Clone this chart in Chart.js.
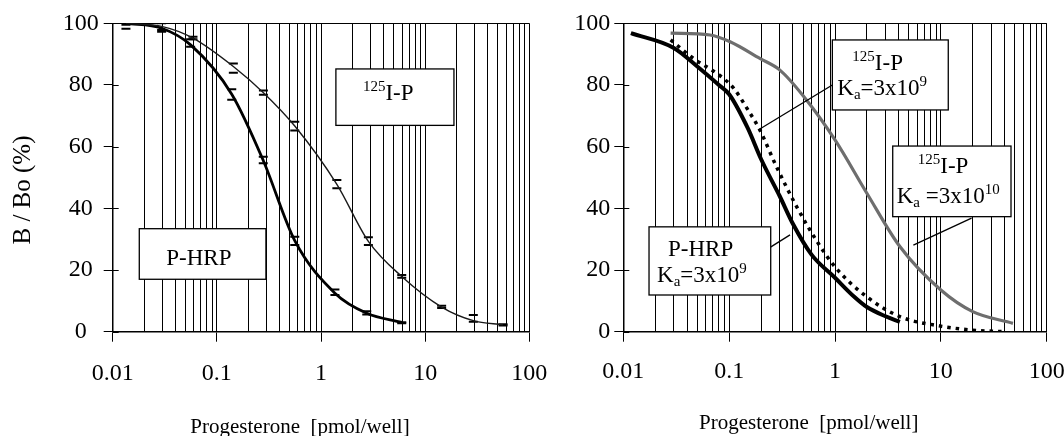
<!DOCTYPE html>
<html>
<head>
<meta charset="utf-8">
<script src="https://cdn.jsdelivr.net/npm/chart.js@4.4.0/dist/chart.umd.min.js"></script>
<style>
  html, body { margin: 0; padding: 0; background: #fff; }
  #wrap { position: relative; width: 1064px; height: 436px; overflow: hidden; background: #fff; }
  .panel { position: absolute; top: 0; }
</style>
</head>
<body>
<div id="wrap">
  <canvas id="leftChart" class="panel" width="570" height="436" style="left:0"></canvas>
  <canvas id="rightChart" class="panel" width="550" height="436" style="left:540px"></canvas>
</div>
<script>
// Left panel: measured points (dose in pmol/well, B/Bo in %)
const hrpDose = [0.0134, 0.0295, 0.056, 0.139, 0.279, 0.56, 1.36, 2.75, 5.96];
const hrpBB   = [100, 98.4, 93, 77, 55.5, 29.5, 12.5, 6, 3];
const hrpHigh = [100.3, 100, 94.8, 78.6, 56.7, 30.8, 13.7, 6.6, 3.1];
const hrpLow  = [98.2, 97.8, 92.4, 75.2, 54.6, 28.1, 11.9, 5.6, 2.7];

const iodDose = [0.0134, 0.0295, 0.059, 0.144, 0.28, 0.56, 1.42, 2.85, 5.96, 14.4, 29, 56];
const iodBB   = [100, 99, 95.2, 86, 77.5, 66.7, 47.8, 29.3, 17.9, 8, 3.6, 2.2];
const iodHigh = [100.3, 100.3, 95.6, 87, 78.2, 68.1, 49.2, 30.6, 18.4, 8.4, 5.4, 2.4];
const iodLow  = [99.5, 97.3, 94.8, 84, 76.8, 65.2, 46.5, 28.1, 17.5, 7.7, 3.2, 2.0];

// Right panel: simulated curves
const simHrpDose = [0.0118, 0.03, 0.05, 0.08, 0.1, 0.15, 0.2, 0.3, 0.4, 0.6, 1.0, 1.5, 2.0, 3.0, 4.1];
const simHrpBB   = [96.8, 92, 86, 80, 77, 66, 56, 44, 35, 25, 17.5, 11.5, 8, 5, 3.2];

const simIod9Dose = [0.028, 0.046, 0.082, 0.11, 0.15, 0.195, 0.28, 0.435, 0.67, 1.0, 2.0, 4.1, 10, 20, 40];
const simIod9BB   = [94.6, 88.6, 83, 79, 72, 65.4, 53.5, 40.5, 29.5, 21, 11.3, 4.9, 1.8, 0.5, 0];

const simIod10Dose = [0.028, 0.066, 0.102, 0.195, 0.3, 0.5, 1.0, 2.0, 4.1, 10, 20, 48];
const simIod10BB   = [96.8, 96.2, 94, 88.6, 84.9, 76.5, 62.2, 44.9, 27.6, 13.5, 6.5, 2.7];

// Axes
const xDecades = [0.01, 0.1, 1, 10, 100];
const xMultiples = [1, 2, 3, 4, 5, 6, 7, 8, 9];
const yTicks = [0, 20, 40, 60, 80, 100];

const SERIF = "'Liberation Serif', 'Times New Roman', serif";
const xGrid = [];
xDecades.slice(0, -1).forEach((d) => xMultiples.forEach((m) => xGrid.push(+(d * m).toPrecision(3))));
xGrid.push(xDecades[xDecades.length - 1]);

const isDecade = (v) => xDecades.some((d) => Math.abs(d - v) < d * 1e-6);
const toPoints = (xs, ys) => xs.map((x, i) => ({ x, y: ys[i] }));

// Text boxes and leader lines, anchored in data units
const leftNotes = {
  boxes: [
    { x0: 1.39, x1: 18.9, y0: 85.2, y1: 66.9,
      lines: [{ dx: 27, dy: 31, segs: [{ t: "125", sup: true }, { t: "I-P" }] }] },
    { x0: 0.018, x1: 0.296, y0: 33.4, y1: 17.0,
      lines: [{ dx: 27, dy: 36, segs: [{ t: "P-HRP" }] }] },
  ],
  leaders: [],
};
const rightNotes = {
  boxes: [
    { x0: 0.944, x1: 11.75, y0: 94.6, y1: 71.9,
      lines: [
        { dx: 20, dy: 30, segs: [{ t: "125", sup: true }, { t: "I-P" }] },
        { dx: 5, dy: 55, segs: [{ t: "K" }, { t: "a", sub: true }, { t: "=3x10" }, { t: "9", sup: true }] },
      ] },
    { x0: 3.51, x1: 46.0, y0: 60.2, y1: 37.3,
      lines: [
        { dx: 25, dy: 27, segs: [{ t: "125", sup: true }, { t: "I-P" }] },
        { dx: 4, dy: 57, segs: [{ t: "K" }, { t: "a", sub: true }, { t: " =3x10" }, { t: "10", sup: true }] },
      ] },
    { x0: 0.0175, x1: 0.247, y0: 34.0, y1: 11.9,
      lines: [
        { dx: 19, dy: 29, segs: [{ t: "P-HRP" }] },
        { dx: 8, dy: 55, segs: [{ t: "K" }, { t: "a", sub: true }, { t: "=3x10" }, { t: "9", sup: true }] },
      ] },
  ],
  leaders: [
    { from: [0.944, 80.0], to: [0.188, 65.4] },
    { from: [19.5, 36.8], to: [5.5, 28.1] },
    { from: [0.188, 24.9], to: [0.376, 31.4] },
  ],
};

const drawRich = (ctx, segs, x, y) => {
  let cx = x;
  for (const s of segs) {
    const small = s.sup || s.sub;
    ctx.font = `${small ? 15 : 23}px ${SERIF}`;
    const dy = s.sup ? -9 : s.sub ? 4 : 0;
    ctx.fillText(s.t, cx, y + dy);
    cx += ctx.measureText(s.t).width;
  }
};

const notesPlugin = (notes) => ({
  id: "notes",
  afterDatasetsDraw(chart) {
    const { ctx, chartArea, scales: { x, y } } = chart;
    ctx.save();
    // inner half of the y tick marks
    ctx.strokeStyle = "#000";
    ctx.lineWidth = 1;
    yTicks.forEach((v) => {
      const py = Math.round(y.getPixelForValue(v)) + 0.5;
      ctx.beginPath();
      ctx.moveTo(chartArea.left, py);
      ctx.lineTo(chartArea.left + 6, py);
      ctx.stroke();
    });
    ctx.lineWidth = 1.3;
    notes.leaders.forEach((l) => {
      ctx.beginPath();
      ctx.moveTo(x.getPixelForValue(l.from[0]), y.getPixelForValue(l.from[1]));
      ctx.lineTo(x.getPixelForValue(l.to[0]), y.getPixelForValue(l.to[1]));
      ctx.stroke();
    });
    notes.boxes.forEach((b) => {
      const left = x.getPixelForValue(b.x0);
      const right = x.getPixelForValue(b.x1);
      const top = y.getPixelForValue(b.y0);
      const bottom = y.getPixelForValue(b.y1);
      ctx.fillStyle = "#fff";
      ctx.fillRect(left, top, right - left, bottom - top);
      ctx.lineWidth = 1.3;
      ctx.strokeRect(left, top, right - left, bottom - top);
      ctx.fillStyle = "#000";
      ctx.textBaseline = "alphabetic";
      ctx.textAlign = "left";
      b.lines.forEach((ln) => drawRich(ctx, ln.segs, left + ln.dx, top + ln.dy));
    });
    ctx.restore();
  },
});

const errorCaps = (xs, ys) => ({
  data: toPoints(xs, ys),
  showLine: false,
  pointStyle: "line",
  pointRadius: 4.5,
  pointBorderWidth: 2,
  pointBorderColor: "#000",
  borderColor: "#000",
});

const makePanel = (canvasId, { datasets, notes, yWidth, padRight, showYTitle, yAlign, yPad, xTitle, xTitlePad, xTickPad }) =>
  new Chart(document.getElementById(canvasId), {
    type: "line",
    data: { datasets },
    options: {
      responsive: false,
      animation: false,
      layout: { padding: { top: 23.3, right: padRight, bottom: 0, left: 0 } },
      elements: { point: { radius: 0 } },
      plugins: { legend: { display: false }, tooltip: { enabled: false } },
      scales: {
        x: {
          type: "logarithmic",
          min: 0.01,
          max: 100,
          afterBuildTicks: (scale) => { scale.ticks = xGrid.map((value) => ({ value })); },
          afterFit: (scale) => { scale.height = 104.3; },
          grid: {
            color: "#000",
            lineWidth: 1,
            tickLength: 10,
            tickColor: (c) => (c.tick && isDecade(c.tick.value) ? "#000" : "rgba(0,0,0,0)"),
          },
          border: { color: "#000", width: 1.5 },
          ticks: {
            autoSkip: false,
            maxRotation: 0,
            padding: xTickPad,
            color: "#000",
            font: { family: SERIF, size: 24 },
            callback: (v) => (isDecade(v) ? String(v) : ""),
          },
          title: {
            display: true,
            text: xTitle,
            color: "#000",
            font: { family: SERIF, size: 21, lineHeight: 1 },
            padding: { top: 0, bottom: xTitlePad },
          },
        },
        y: {
          min: 0,
          max: 100,
          afterBuildTicks: (scale) => { scale.ticks = yTicks.map((value) => ({ value })); },
          afterFit: (scale) => { scale.width = yWidth; },
          grid: {
            color: (c) => (c.tick && c.tick.value === 100 ? "#000" : "rgba(0,0,0,0)"),
            tickColor: "#000",
            tickLength: 9,
          },
          border: { color: "#000", width: 1.5 },
          ticks: {
            padding: yPad,
            crossAlign: yAlign,
            color: "#000",
            font: { family: SERIF, size: 24 },
          },
          title: {
            display: showYTitle,
            text: "B / Bo (%)\u2002\u2002",
            color: "#000",
            font: { family: SERIF, size: 25 },
            padding: { top: 8, bottom: 0 },
          },
        },
      },
    },
    plugins: [notesPlugin(notes)],
  });

makePanel("leftChart", {
  datasets: [
    { data: toPoints(iodDose, iodBB), borderColor: "#1a1a1a", borderWidth: 1.4, cubicInterpolationMode: "monotone" },
    { data: toPoints(hrpDose, hrpBB), borderColor: "#000", borderWidth: 2.8, cubicInterpolationMode: "monotone" },
    errorCaps(hrpDose, hrpHigh),
    errorCaps(hrpDose, hrpLow),
    errorCaps(iodDose, iodHigh),
    errorCaps(iodDose, iodLow),
  ],
  notes: leftNotes,
  yWidth: 112.7,
  padRight: 570 - 529.3,
  showYTitle: true,
  yAlign: "center",
  yPad: 5,
  xTitle: "Progesterone  [pmol/well]\u2002\u2002\u2002\u2002",
  xTitlePad: -1.5,
  xTickPad: 18,
});

makePanel("rightChart", {
  datasets: [
    { data: toPoints(simIod10Dose, simIod10BB), borderColor: "#6e6e6e", borderWidth: 3.2, cubicInterpolationMode: "monotone" },
    { data: toPoints(simIod9Dose, simIod9BB), borderColor: "#000", borderWidth: 3.5, borderDash: [3.5, 5], cubicInterpolationMode: "monotone" },
    { data: toPoints(simHrpDose, simHrpBB), borderColor: "#000", borderWidth: 4, cubicInterpolationMode: "monotone" },
  ],
  notes: rightNotes,
  yWidth: 623.3 - 540,
  padRight: 550 - (1046.7 - 540),
  showYTitle: false,
  yAlign: "near",
  yPad: 4,
  xTitle: "Progesterone  [pmol/well]\u2002\u2002\u2002\u2002\u2002",
  xTitlePad: 2.5,
  xTickPad: 16,
});
</script>
</body>
</html>
